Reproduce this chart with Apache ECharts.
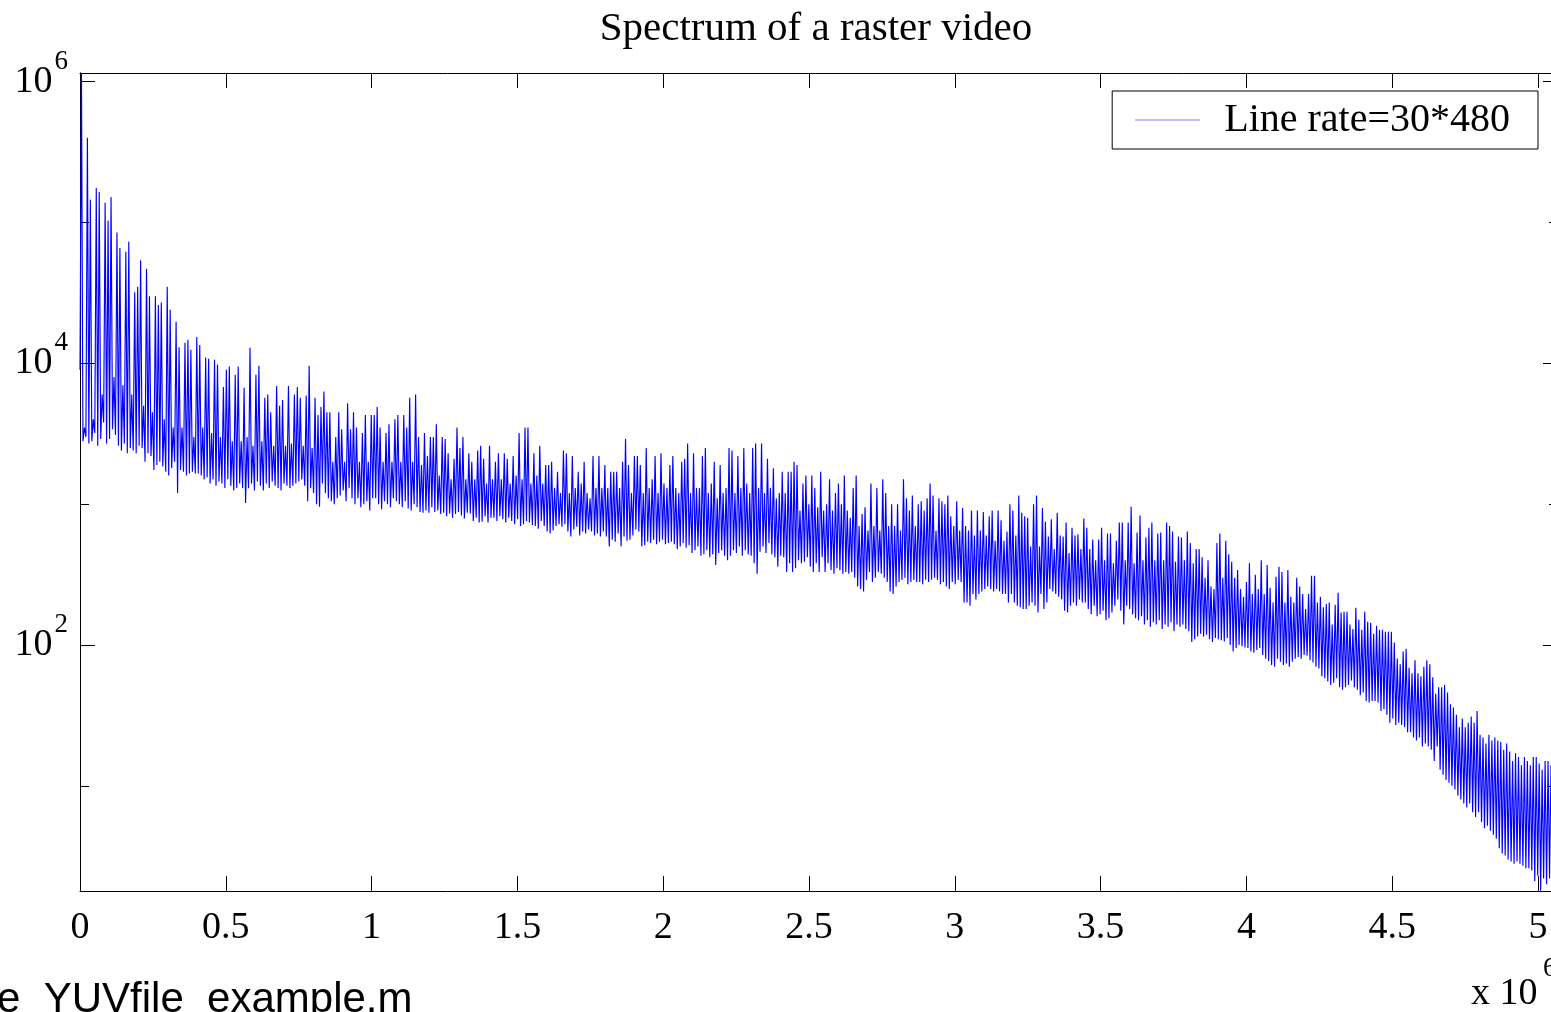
<!DOCTYPE html>
<html>
<head>
<meta charset="utf-8">
<title>Spectrum of a raster video</title>
<script src="https://cdn.jsdelivr.net/npm/echarts@6/dist/echarts.min.js"></script>
<style>
  html, body { margin: 0; padding: 0; background: #fff; }
  #chart { width: 1551px; height: 1012px; }
</style>
</head>
<body>
<div id="chart"></div>
<script>
const chartTitle = 'Spectrum of a raster video';
const seriesName = 'Line rate=30*480';
const fileNote = 'e_YUVfile_example.m';

// frequency step between two plotted samples (Hz)
const binHz = 5070;

// local maxima, one per pair of samples, left to right
const peaks = [
  1150000, 3500, 400000, 145000, 4000, 176000, 165000, 6000, 138000, 103000, 152000, 8000, 85000, 66000, 7000, 62000, 73000, 6000, 32000, 35000,
  54000, 5000, 47000, 30000, 4500, 30000, 26000, 27000, 4000, 35000, 24000, 3500, 19700, 13000, 3500, 14000, 14700, 12500, 3000, 15400,
  13500, 3500, 11000, 10800, 3200, 10600, 9800, 3000, 6800, 9000, 9500, 2800, 8300, 9500, 2800, 6700, 3000, 12900, 2600, 8300,
  9600, 2800, 5700, 6000, 4500, 2600, 6900, 5000, 5500, 2600, 6900, 2700, 6000, 6800, 5700, 2600, 5900, 9600, 2500, 5700,
  4300, 4900, 6300, 4500, 4500, 2000, 3000, 4500, 3400, 2000, 5200, 3400, 4500, 3500, 2000, 3200, 4300, 2000, 4300, 4300,
  4900, 3500, 2000, 3200, 3700, 2000, 4000, 4300, 2000, 4300, 3500, 5700, 2000, 6000, 3000, 1900, 3200, 2200, 3000, 3000,
  3700, 1600, 3000, 2900, 2300, 1500, 2100, 3500, 2500, 3000, 1500, 2300, 2000, 1500, 2400, 2600, 2100, 1400, 2600, 1500,
  2000, 2300, 1500, 2300, 2100, 1400, 2200, 1600, 3200, 1500, 3500, 3500, 1400, 2300, 1600, 2600, 1400, 1900, 1900, 2000,
  1300, 1700, 1200, 2400, 2300, 1200, 2200, 1300, 1700, 1400, 2000, 1200, 1100, 2200, 1300, 2200, 1300, 1900, 1300, 1700,
  1700, 1700, 1300, 2000, 2900, 1900, 1200, 2200, 2200, 1900, 1200, 2500, 1300, 1500, 2200, 1200, 2300, 1400, 1300, 1900,
  2200, 1300, 1200, 2000, 2100, 2700, 1200, 2300, 1300, 1300, 2200, 2500, 1200, 1400, 2000, 1100, 1900, 1200, 1300, 2500,
  2400, 1200, 2200, 1300, 2500, 1400, 1200, 2500, 2700, 1300, 2700, 1200, 2100, 1300, 1800, 1100, 1200, 1700, 1200, 1700,
  1700, 2000, 1900, 900, 1400, 1600, 1000, 1600, 1300, 950, 1700, 900, 1000, 1500, 900, 1200, 1400, 1000, 1600, 900,
  800, 1300, 1600, 700, 850, 950, 650, 1400, 700, 1300, 650, 1500, 1200, 700, 1000, 700, 1000, 650, 1500, 1100,
  900, 1150, 700, 1000, 1050, 900, 1100, 1400, 1150, 650, 1100, 1050, 1000, 1150, 820, 700, 1050, 650, 940, 700,
  650, 900, 600, 900, 650, 880, 600, 820, 900, 550, 900, 770, 550, 640, 1000, 900, 600, 1150, 870, 820,
  800, 500, 1000, 1150, 500, 940, 750, 590, 780, 480, 870, 600, 590, 740, 450, 680, 600, 610, 480, 790,
  680, 480, 560, 400, 560, 680, 400, 620, 620, 380, 550, 740, 740, 400, 740, 960, 380, 630, 830, 400,
  580, 680, 740, 400, 620, 630, 400, 740, 700, 640, 390, 590, 580, 400, 640, 530, 380, 480, 480, 420,
  300, 400, 260, 250, 530, 620, 300, 550, 440, 390, 300, 340, 250, 220, 280, 380, 230, 315, 250, 400,
  230, 370, 255, 200, 305, 360, 330, 200, 340, 220, 200, 300, 260, 230, 180, 230, 310, 310, 200, 220,
  185, 195, 200, 140, 193, 235, 170, 172, 172, 140, 130, 184, 151, 128, 172, 146, 144, 120, 137, 128,
  128, 124, 124, 124, 104, 80, 73, 90, 94, 69, 63, 78, 63, 60, 70, 78, 73, 59, 45, 50,
  50, 52, 46, 38, 36, 32, 26, 30, 26, 28, 31, 28, 34, 23, 22, 20, 23, 21, 22, 21,
  20.5, 18, 20, 17.5, 15, 17, 16, 14, 16, 15, 14, 16, 16, 14.4, 13, 15, 15, 14, 14, 14
];

// local minima, each one sits just before the peak with the same index
const troughs = [
  9000, 2800, 3000, 2700, 2800, 3200, 2600, 2900, 3800, 2700, 2900, 3400, 3100, 2600, 2400, 2700, 2300, 2500, 2400, 2300,
  2600, 2500, 2000, 2300, 2200, 1750, 1900, 2000, 1850, 1700, 1600, 1800, 2000, 1200, 1750, 1700, 1600, 1650, 1700, 1650,
  1650, 1600, 1500, 1550, 1400, 1500, 1350, 1450, 1400, 1300, 1500, 1350, 1250, 1300, 1400, 1300, 1020, 1300, 1400, 1250,
  1450, 1350, 1250, 1400, 1300, 1450, 1350, 1300, 1250, 1400, 1350, 1300, 1350, 1400, 1450, 1500, 1350, 1050, 1300, 1200,
  1000, 960, 1400, 1200, 1100, 1050, 1000, 1100, 1150, 1250, 1050, 1300, 1100, 1000, 1100, 950, 1000, 1050, 900, 1100,
  1100, 1000, 920, 1050, 1000, 950, 1100, 1050, 1000, 950, 1050, 930, 900, 1000, 950, 880, 870, 900, 870, 950,
  880, 900, 850, 870, 820, 860, 800, 850, 880, 830, 790, 870, 860, 760, 800, 740, 750, 820, 740, 800,
  800, 760, 820, 780, 740, 800, 760, 720, 780, 700, 720, 760, 740, 710, 700, 670, 760, 700, 640, 620,
  650, 700, 720, 690, 720, 640, 590, 660, 690, 600, 640, 620, 660, 640, 600, 620, 590, 640, 590, 500,
  560, 540, 620, 500, 590, 550, 560, 600, 660, 640, 500, 510, 540, 530, 560, 520, 540, 560, 520, 530,
  540, 520, 480, 500, 530, 490, 510, 450, 470, 500, 430, 440, 470, 420, 440, 370, 450, 470, 430, 400,
  430, 470, 450, 500, 430, 470, 440, 430, 380, 320, 460, 500, 450, 530, 440, 420, 360, 430, 420, 330,
  380, 330, 350, 400, 380, 390, 420, 360, 330, 380, 330, 420, 330, 380, 340, 320, 350, 340, 320, 330,
  320, 330, 300, 260, 250, 240, 290, 330, 280, 300, 330, 320, 300, 280, 240, 230, 260, 280, 290, 300,
  270, 280, 290, 280, 280, 270, 290, 280, 290, 300, 290, 270, 280, 260, 250, 280, 270, 290, 280, 200,
  200, 190, 230, 210, 230, 240, 250, 260, 250, 240, 250, 240, 230, 230, 200, 230, 200, 190, 185, 180,
  180, 190, 200, 190, 170, 230, 180, 200, 250, 240, 230, 220, 210, 175, 170, 190, 200, 190, 210, 200,
  200, 180, 165, 190, 160, 165, 175, 150, 155, 170, 190, 210, 175, 140, 190, 180, 165, 155, 150, 160,
  140, 150, 135, 145, 140, 150, 130, 140, 135, 145, 125, 140, 135, 140, 130, 125, 105, 110, 115, 120,
  115, 118, 110, 105, 112, 110, 108, 106, 112, 100, 90, 95, 100, 98, 96, 95, 90, 88, 92, 95,
  85, 80, 77, 72, 70, 80, 76, 72, 74, 70, 76, 80, 82, 80, 85, 84, 78, 75, 70, 68,
  60, 58, 55, 52, 54, 58, 50, 48, 50, 52, 56, 50, 48, 44, 46, 40, 39, 40, 40, 39,
  34, 35, 32, 28, 30, 27, 28, 27, 26, 24, 24, 22, 21, 22, 19, 20, 19, 18, 15, 19,
  13, 12, 11, 10.5, 10, 9.4, 8.5, 8, 7.5, 7, 7.5, 6.5, 6, 6.5, 5.5, 5, 5.2, 4.8, 4.5, 4.2,
  3.6, 3.3, 3.2, 3.0, 2.9, 2.8, 2.9, 2.8, 2.7, 2.6, 2.6, 2.5, 2.1, 2.3, 1.8, 2.2, 2.0, 2.2, 2.3, 2.4
];

// x ticks every 0.5e6 Hz, labels in units of 1e6
const xTickLabels = ['0', '0.5', '1', '1.5', '2', '2.5', '3', '3.5', '4', '4.5', '5'];
const xTickStep = 500000;
// labelled decades of the y axis
const yTickExponents = [2, 4, 6];

const xMax = 5068600;
const yMin = 1.79;
const yMax = 1153000;

const serif = "'Liberation Serif', 'Times New Roman', serif";

const lineData = [];
for (let k = 0; k < peaks.length; k++) {
    lineData.push([2 * k * binHz, troughs[k]]);
    lineData.push([(2 * k + 1) * binHz, peaks[k]]);
}

const chartInstance = echarts.init(document.getElementById('chart'));

const xAxisBase = (pos, showLabel) => ({
    type: 'value',
    position: pos,
    min: 0,
    max: xMax,
    interval: xTickStep,
    axisLine: { show: true, onZero: false, lineStyle: { color: '#000', width: 1 } },
    axisTick: { show: true, inside: true, length: 15, lineStyle: { color: '#000', width: 1 } },
    splitLine: { show: false },
    axisLabel: showLabel ? {
        margin: 18,
        color: '#000',
        fontFamily: serif,
        fontSize: 38,
        formatter: function (v) {
            const i = Math.round(v / xTickStep);
            if (Math.abs(v - i * xTickStep) > 1) return '';
            return xTickLabels[i] || '';
        }
    } : { show: false }
});

// log axes: base 10 gives the short tick at every decade,
// base 100 gives the long tick (and label) at every second decade
const yAxisBase = (pos, base, len, showLabel) => ({
    type: 'log',
    logBase: base,
    position: pos,
    min: yMin,
    max: yMax,
    axisLine: { show: true, onZero: false, lineStyle: { color: '#000', width: 1 } },
    axisTick: { show: true, inside: true, length: len, lineStyle: { color: '#000', width: 1 } },
    splitLine: { show: false },
    axisLabel: showLabel ? {
        margin: 12,
        color: '#000',
        fontFamily: serif,
        formatter: function (v) {
            const e = Math.log10(v);
            const r = Math.round(e);
            if (Math.abs(e - r) > 1e-6 || yTickExponents.indexOf(r) < 0) return '';
            return '{b|10}{s|' + r + '}';
        },
        rich: {
            b: { fontFamily: serif, fontSize: 38, color: '#000', verticalAlign: 'middle' },
            s: { fontFamily: serif, fontSize: 27, color: '#000', verticalAlign: 'middle', padding: [0, 0, 40, 2] }
        }
    } : { show: false }
});

const option = {
    animation: false,
    backgroundColor: '#fff',
    title: {
        text: chartTitle,
        left: 816,
        top: 9,
        padding: 0,
        textAlign: 'center',
        textStyle: { fontFamily: serif, fontSize: 41, fontWeight: 'normal', color: '#000' }
    },
    legend: {
        data: [{ name: seriesName, icon: 'rect' }],
        right: 13,
        top: 91,
        padding: [9, 28, 9, 23],
        borderColor: '#000',
        borderWidth: 1,
        itemWidth: 65,
        itemHeight: 1,
        itemStyle: { color: '#7a7aff', borderWidth: 0 },
        textStyle: { fontFamily: serif, fontSize: 40, color: '#000', padding: [0, 0, 0, 19] }
    },
    grid: {
        left: 80,
        right: -7,
        top: 73,
        bottom: 121,
        outerBoundsMode: 'none',
        containLabel: false
    },
    xAxis: [xAxisBase('bottom', true), xAxisBase('top', false)],
    yAxis: [
        yAxisBase('left', 10, 9, false),
        yAxisBase('left', 100, 15, true),
        yAxisBase('right', 10, 9, false),
        yAxisBase('right', 100, 15, false)
    ],
    graphic: [
        {
            type: 'text',
            x: -3,
            y: 1000,
            style: { text: fileNote, font: "42px 'Liberation Sans', Arial, sans-serif", fill: '#000', verticalAlign: 'middle' }
        },
        {
            type: 'text',
            x: 1471,
            y: 994,
            style: { text: 'x 10', font: '38px ' + serif, fill: '#000', verticalAlign: 'middle' }
        },
        {
            type: 'text',
            x: 1543,
            y: 969,
            style: { text: '6', font: '27px ' + serif, fill: '#000', verticalAlign: 'middle' }
        }
    ],
    series: [
        {
            name: seriesName,
            type: 'line',
            xAxisIndex: 0,
            yAxisIndex: 0,
            data: lineData,
            symbol: 'none',
            showSymbol: false,
            lineStyle: { color: '#0000ff', width: 1.15 },
            itemStyle: { color: '#0000ff' },
            emphasis: { disabled: true },
            silent: true
        }
    ]
};

chartInstance.setOption(option);
</script>
</body>
</html>
